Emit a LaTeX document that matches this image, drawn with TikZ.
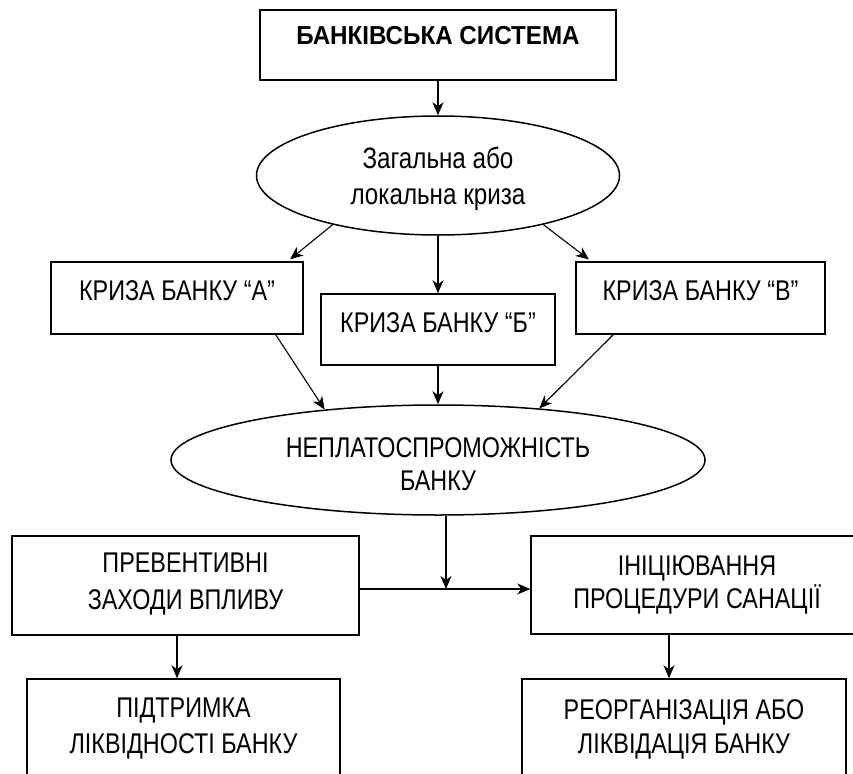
\documentclass[tikz,border=0pt]{standalone}
\usepackage{fontspec}
\setmainfont{Liberation Sans}[FakeStretch=0.82]
\newfontfamily\topfont{Liberation Sans}[FakeStretch=0.93]
\usetikzlibrary{shapes.geometric,arrows.meta}
\newcommand{\mylines}[1]{\begin{tabular}[t]{@{}c@{}}#1\end{tabular}}
\begin{document}
\begin{tikzpicture}[x=1pt,y=-1pt,
  box/.style={draw,line width=1.5pt,rectangle,inner sep=0pt,text height=20pt,align=center},
  oval/.style={draw,line width=1.5pt,ellipse,inner sep=0pt,text height=20pt,align=center},
  arr/.style={line width=1.1pt,-{Stealth[length=13pt,width=11pt,inset=4pt]}},
  fa/.style={font=\fontsize{28.5}{#1}\selectfont},
]
\useasboundingbox (0,0) rectangle (853,773);
\fill[white] (0,0) rectangle (853,773);
\clip (0,0) rectangle (853,773);

\node[box,minimum width=356pt,minimum height=70pt,text depth=20pt,
      font=\topfont\bfseries\fontsize{26}{30}\selectfont] (top) at (438,45) {БАНКІВСЬКА СИСТЕМА};

\node[oval,minimum width=363pt,minimum height=119pt,text depth=35pt,
      font=\fontsize{29.5}{36}\selectfont] (e1) at (438,175.5) {\mylines{Загальна або\\локальна криза}};

\node[box,fa=36,minimum width=252pt,minimum height=72pt,text depth=16pt] (ka) at (177,298) {КРИЗА БАНКУ “А”};
\node[box,fa=36,minimum width=234pt,minimum height=71pt,text depth=15pt] (kb) at (438,329.5) {КРИЗА БАНКУ “Б”};
\node[box,fa=36,minimum width=249pt,minimum height=72pt,text depth=16pt] (kv) at (700.5,298) {КРИЗА БАНКУ “В”};

\node[oval,fa=33,minimum width=534pt,minimum height=110pt,text depth=26pt] (e2) at (438,460) {\mylines{НЕПЛАТОСПРОМОЖНІСТЬ\\БАНКУ}};

\node[box,fa=37,minimum width=347pt,minimum height=99pt,text depth=47pt] (pz) at (185.5,585.5) {\mylines{ПРЕВЕНТИВНІ\\ЗАХОДИ ВПЛИВУ}};
\node[box,fa=32,minimum width=332pt,minimum height=98pt,text depth=40pt] (ps) at (697,585) {\mylines{ІНІЦІЮВАННЯ\\ПРОЦЕДУРИ САНАЦІЇ}};

\node[box,fa=36,minimum width=313pt,minimum height=122pt,text depth=66pt] (pl) at (183.5,740) {\mylines{ПІДТРИМКА\\ЛІКВІДНОСТІ БАНКУ}};
\node[box,fa=34,minimum width=324pt,minimum height=122pt,text depth=62pt] (rl) at (684,740) {\mylines{РЕОРГАНІЗАЦІЯ АБО\\ЛІКВІДАЦІЯ БАНКУ}};

\coordinate (j) at (446,589);

\draw[arr] (top.south) -- (e1.north);
\draw[arr,shorten >=3pt] (e1.205) -- ([xshift=-16pt]ka.north east);
\draw[arr] (e1.south) -- (kb.north);
\draw[arr,shorten >=3pt] (e1.-25) -- ([xshift=16pt]kv.north west);

\draw[arr] ([xshift=-28pt]ka.south east) -- (e2.156);
\draw[arr] (kb.south) -- (e2.north);
\draw[arr] ([xshift=38pt]kv.south west) -- (e2.27);

\draw[arr] (e2.south -| j) -- (j);
\draw[arr] (pz.east |- j) -- (ps.west |- j);

\draw[arr] ([xshift=-8.5pt]pz.south) -- ([xshift=-6.5pt]pl.north);
\draw[arr] ([xshift=-28pt]ps.south) -- ([xshift=-15pt]rl.north);
\end{tikzpicture}
\end{document}
